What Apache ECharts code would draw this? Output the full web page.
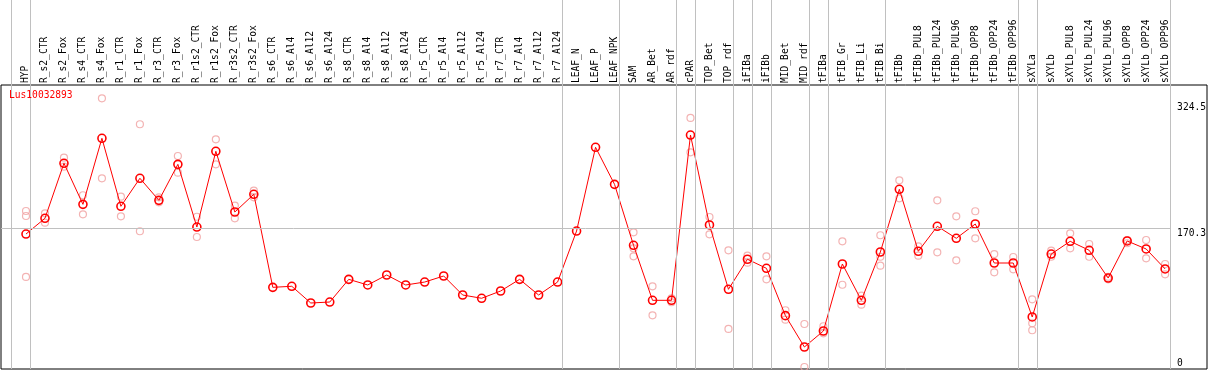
<!DOCTYPE html>
<html><head><meta charset="utf-8">
<script src="https://cdn.jsdelivr.net/npm/echarts@6/dist/echarts.min.js"></script>
<style>html,body{margin:0;padding:0;background:#fff}#c{width:1209px;height:370px}</style>
</head><body><div id="c"></div>
<script>
const categories = ['HYP','R_s2_CTR','R_s2_Fox','R_s4_CTR','R_s4_Fox','R_r1_CTR','R_r1_Fox','R_r3_CTR','R_r3_Fox','R_r1s2_CTR','R_r1s2_Fox','R_r3s2_CTR','R_r3s2_Fox','R_s6_CTR','R_s6_Al4','R_s6_Al12','R_s6_Al24','R_s8_CTR','R_s8_Al4','R_s8_Al12','R_s8_Al24','R_r5_CTR','R_r5_Al4','R_r5_Al12','R_r5_Al24','R_r7_CTR','R_r7_Al4','R_r7_Al12','R_r7_Al24','LEAF_N','LEAF_P','LEAF_NPK','SAM','AR_Bet','AR_rdf','cPAR','TOP_Bet','TOP_rdf','iFIBa','iFIBb','MID_Bet','MID_rdf','tFIBa','tFIB_Gr','tFIB_Li','tFIB_Bi','tFIBb','tFIBb_PUL8','tFIBb_PUL24','tFIBb_PUL96','tFIBb_OPP8','tFIBb_OPP24','tFIBb_OPP96','sXYLa','sXYLb','sXYLb_PUL8','sXYLb_PUL24','sXYLb_PUL96','sXYLb_OPP8','sXYLb_OPP24','sXYLb_OPP96'];
const mainValues = [162.9,182.2,249.6,199.3,280.2,196.9,231.2,204.2,248.3,171.5,264.3,189.9,211.6,97.6,98.9,78.4,79.6,107.4,100.5,112.7,100.5,104.1,111.5,88.2,84.2,93.1,107.4,88.2,104.1,166.6,269.2,223.8,149.1,81.7,81.7,284.2,174.0,95.2,132.0,120.9,62.9,24.5,44.1,126.2,81.7,140.9,217.7,141.8,172.4,157.7,175.2,127.4,127.4,61.3,138.4,154.0,143.0,109.0,154.4,144.6,120.1];
const rep1 = [191.1,188.3,256.4,210.4,329.2,208.7,297.4,207.9,258.5,184.1,279.0,197.6,216.0,null,null,null,null,null,null,null,null,null,null,null,null,null,null,null,null,null,null,null,165.0,98.9,84.2,305.1,183.8,143.0,136.4,135.6,69.5,52.7,49.9,154.0,87.4,161.4,228.7,147.9,204.2,184.6,190.8,138.4,134.8,82.9,142.5,163.8,150.7,110.6,155.6,155.6,126.2];
const rep2 = [185.0,176.8,245.4,187.1,231.2,184.6,166.3,201.8,238.1,159.3,248.3,182.2,207.9,null,null,null,null,null,null,null,null,null,null,null,null,null,null,null,null,null,null,null,145.4,63.3,79.3,263.0,162.6,46.6,127.8,107.4,58.0,0,41.3,100.8,76.3,135.1,206.7,136.4,140.5,130.7,157.7,116.0,119.7,53.5,135.1,145.4,135.1,107.4,151.6,133.2,113.6];
const rep3 = [110.3,null,null,null,null,null,null,null,null,null,null,null,null,null,null,null,null,null,null,null,null,null,null,null,null,null,null,null,null,null,null,null,135.6,null,null,null,null,null,null,null,null,null,null,null,null,124.1,null,null,null,null,null,null,null,45.0,null,null,null,null,null,null,null];
const yTickLabels = [0, 170.3, 324.5];
const refLineValue = 170.3;
const groupEnds = [-1,0,28,31,34,35,37,38,39,41,42,45,52,53,60];
const geneName = 'Lus10032893';

const FONT = '"DejaVu Sans Mono", monospace';
const Y_MIN = -2.45, Y_MAX = 345.5;
const X_MIN = -1.3158, X_MAX = 62.158;
const GAP = 0.23;

const repData = [];
[rep1, rep2, rep3].forEach(arr => arr.forEach((v, i) => { if (v !== null) repData.push([i, v]); }));

const chart = echarts.init(document.getElementById('c'), null, {renderer: 'canvas'});
chart.setOption({
  animation: false,
  backgroundColor: '#fff',
  title: {text: geneName, left: 9, top: 90, padding: 0,
    textStyle: {color: '#ff0000', fontSize: 9.6, fontWeight: 'normal', fontFamily: FONT}},
  grid: [
    {left: 1, right: 2, top: 85, bottom: 1, show: true, borderColor: '#000', borderWidth: 1, backgroundColor: 'transparent'},
    {left: 16.5, width: 1159, top: 85, bottom: 1},
    {left: 1, right: 2, top: 0, bottom: 1}
  ],
  xAxis: [
    {gridIndex: 1, type: 'category', data: categories, position: 'top', boundaryGap: true,
      axisLine: {show: false}, axisTick: {show: false}, splitLine: {show: false},
      axisLabel: {rotate: 90, interval: 0, margin: 2, color: '#000', fontSize: 9.6, fontFamily: FONT}},
    {gridIndex: 0, type: 'value', min: X_MIN, max: X_MAX, show: false},
    {gridIndex: 2, type: 'value', min: X_MIN, max: X_MAX, show: false}
  ],
  yAxis: [
    {gridIndex: 1, type: 'value', min: Y_MIN, max: Y_MAX, position: 'right',
      axisLine: {show: false}, axisTick: {show: false}, splitLine: {show: false},
      axisLabel: {customValues: yTickLabels, margin: 2.5, color: '#000', fontSize: 9.6, fontFamily: FONT,
        verticalAlign: 'middle',
        formatter: v => v === 0 ? '{b|0}' : '{t|' + v + '}',
        rich: {
          t: {padding: [11, 0, 0, 0], fontSize: 9.6, fontFamily: FONT, color: '#000'},
          b: {padding: [0, 0, 8, 0], fontSize: 9.6, fontFamily: FONT, color: '#000'}
        }}},
    {gridIndex: 0, type: 'value', min: Y_MIN, max: Y_MAX, show: false},
    {gridIndex: 2, type: 'value', min: 0, max: 1, show: false}
  ],
  series: [
    {type: 'line', xAxisIndex: 2, yAxisIndex: 2, data: [], silent: true, z: 1,
      markLine: {silent: true, symbol: 'none', label: {show: false}, animation: false,
        lineStyle: {color: '#c0c0c0', type: 'solid', width: 1},
        data: groupEnds.map(g => [{coord: [g + GAP, 0]}, {coord: [g + GAP, 1]}]).concat([
          [{coord: [X_MIN - 0.1, 1], lineStyle: {color: '#000', width: 2}}, {coord: [X_MAX + 0.2, 1]}]
        ])}},
    {type: 'line', xAxisIndex: 1, yAxisIndex: 1, data: [], silent: true, z: 1,
      markLine: {silent: true, symbol: 'none', label: {show: false}, animation: false,
        lineStyle: {color: '#c0c0c0', type: 'solid', width: 1},
        data: [
          [{coord: [X_MIN, refLineValue]}, {coord: [groupEnds[groupEnds.length - 1] + GAP, refLineValue]}]
        ]}},
    {type: 'scatter', xAxisIndex: 0, yAxisIndex: 0, data: repData, z: 2,
      symbol: 'circle', symbolSize: 7,
      itemStyle: {color: 'rgba(0,0,0,0)', borderColor: '#f0a0a0', borderWidth: 1.2}},
    {type: 'line', xAxisIndex: 0, yAxisIndex: 0, data: mainValues, z: 3,
      symbol: 'circle', symbolSize: 8, showAllSymbol: true,
      lineStyle: {color: '#ff0000', width: 1},
      itemStyle: {color: 'rgba(0,0,0,0)', borderColor: '#ff0000', borderWidth: 1.6}}
  ]
});
</script>
</body></html>
